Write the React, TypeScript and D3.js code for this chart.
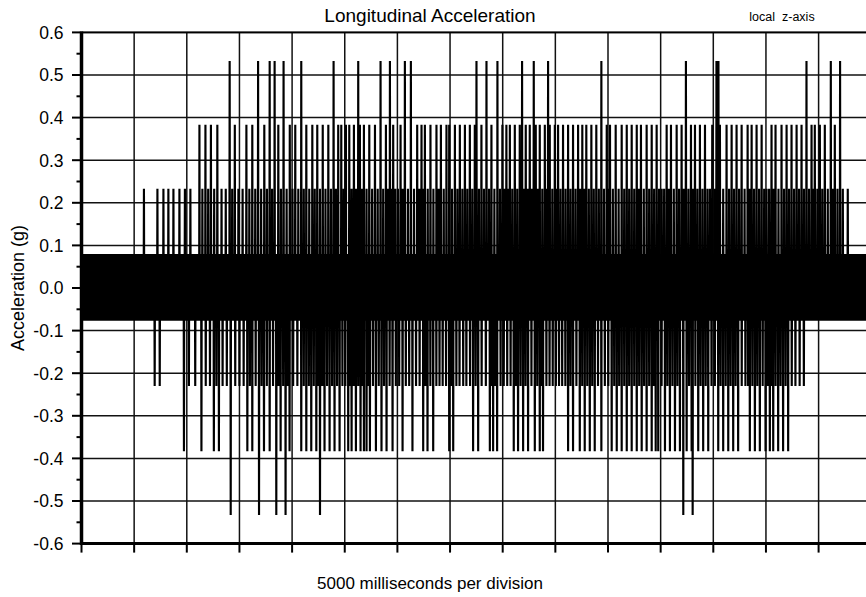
import React from "react";
import * as d3 from "d3";

// ---- data (time in ms, acceleration in g) ----
const timeDomain = [0, 75000];
const msPerDivision = 5000;
const yTickValues = [0.6, 0.5, 0.4, 0.3, 0.2, 0.1, 0.0, -0.1, -0.2, -0.3, -0.4, -0.5, -0.6];
const yTickLabels = ["0.6", "0.5", "0.4", "0.3", "0.2", "0.1", "0.0", "-0.1", "-0.2", "-0.3", "-0.4", "-0.5", "-0.6"];

// quantised noise band around zero
const bandLow = -0.077;
const bandHigh = 0.08;
const bandSpan = [0, 75000];

// spike levels
const levelPos053 = 0.533;
const levelPos038 = 0.383;
const levelPos023 = 0.233;
const levelNeg023 = -0.23;
const levelNeg038 = -0.383;
const levelNeg053 = -0.533;

const pos053 = [14070, 16770, 17870, 18340, 19190, 20870, 23940, 26280, 28400, 29290, 30710, 31280, 37510, 38460, 39500, 41840, 42950, 44310, 49370, 57400, 60300, 60490, 68850, 71160, 72040];

const neg053 = [14170, 16860, 18500, 19380, 22650, 57150, 58040];

const pos038 = [11200, 11770, 12290, 12900, 14560, 15660, 16220, 17360, 18690, 19780, 20300, 21350, 21920, 22390, 22910, 23440, 24380, 24670, 25110, 25430, 25870, 26440, 26820, 27330, 27870, 28910, 29600, 30300, 31880, 32290, 32610, 33140, 33710, 34130, 34660, 34920, 35460, 35930, 36410, 36880, 37350, 37980, 38930, 39970, 40350, 40680, 41150, 41620, 42190, 42570, 43140, 43520, 44000, 44470, 44950, 45260, 45730, 46210, 46680, 47160, 47560, 47940, 48420, 48890, 49880, 50190, 50730, 51300, 51780, 52250, 52730, 53130, 53670, 54150, 54620, 55570, 55980, 56520, 56990, 57880, 58260, 58730, 59210, 59900, 60630, 61260, 61740, 62210, 62690, 63260, 63640, 64110, 64590, 65530, 65910, 66480, 66960, 67430, 67910, 68380, 69330, 69640, 70120, 70590, 71540];

const neg038 = [9730, 11390, 12570, 13050, 15750, 16220, 17330, 17870, 18910, 19760, 20870, 21350, 21820, 22300, 23080, 23560, 24030, 24510, 25330, 25650, 26060, 26500, 26820, 27070, 27390, 27960, 28490, 28970, 29540, 30490, 31430, 32450, 32860, 33400, 34920, 35300, 37190, 37670, 38780, 39090, 39470, 41050, 41460, 41940, 42410, 43050, 43520, 43830, 46210, 46680, 47320, 47790, 48270, 48740, 49370, 50350, 50830, 51300, 51780, 52250, 52730, 53200, 53670, 54150, 54530, 54770, 55410, 55880, 56360, 56830, 57470, 57940, 58570, 59040, 59520, 60470, 60940, 61420, 61890, 62360, 63470, 63950, 64420, 64960, 65370, 65690, 66160, 66630, 67110];

const pos023 = [5930, 7210, 7780, 8250, 8730, 9300, 9820, 10340, 11480, 12030, 12600, 13300, 13700, 14310, 14900, 15300, 15940, 16500, 17060, 17610, 18100, 18940, 19480, 20040, 20590, 21110, 21630, 22150, 22650, 23170, 23690, 24160, 24890, 25650, 26080, 26630, 27070, 27600, 28130, 28650, 29100, 29450, 29800, 30050, 30500, 31000, 31580, 32080, 32450, 32880, 33420, 33920, 34400, 35190, 35700, 36170, 36640, 37110, 37740, 38220, 38700, 39210, 39740, 40160, 40510, 40910, 41380, 42010, 42380, 42760, 43330, 43760, 44150, 44710, 45100, 45490, 45970, 46440, 46920, 47360, 47750, 48180, 48650, 49130, 49620, 50030, 50460, 51010, 51540, 52010, 52490, 52930, 53400, 53910, 54380, 54850, 55100, 55330, 55770, 56250, 56750, 57190, 57640, 58070, 58490, 58970, 59450, 59680, 60150, 60940, 61500, 61970, 62450, 62970, 63450, 63870, 64350, 64830, 65060, 65300, 65720, 66190, 66720, 67190, 67670, 68140, 68610, 69090, 69480, 69880, 70350, 70870, 71350, 71790, 72300, 72770];

const neg023 = [6950, 7430, 10200, 10800, 11800, 12200, 12810, 13400, 13800, 14600, 15000, 15400, 15990, 16540, 17100, 17600, 18190, 18700, 19150, 19570, 20100, 20500, 21110, 21590, 22060, 22480, 22870, 23320, 23800, 24270, 24780, 25060, 25490, 25860, 26280, 26660, 27230, 27680, 28230, 28730, 29260, 29850, 30170, 30800, 31120, 31770, 32110, 32650, 33130, 33700, 34000, 34300, 34620, 35110, 35600, 35900, 36250, 36550, 36900, 37430, 38000, 38400, 38930, 39280, 39800, 40100, 40430, 40750, 41250, 41700, 42170, 42730, 43280, 43670, 44150, 44450, 44750, 45050, 45350, 45650, 45950, 46440, 47000, 47550, 48030, 48500, 49050, 49700, 50030, 50590, 51060, 51540, 52010, 52490, 52960, 53430, 53910, 54340, 55090, 55640, 56120, 56590, 57700, 58300, 58800, 59280, 59830, 60150, 60700, 61180, 61650, 62120, 62700, 63050, 63300, 63710, 64180, 64690, 65160, 65530, 65920, 66390, 66870, 67450, 67800, 68200, 68600];

const W = 866;
const H = 597;
const FONT = "'Liberation Sans', Arial, Helvetica, sans-serif";

export default function App() {
  const plotLeft = 81.5;
  const plotRight = 871.25;
  const plotTop = 32.4;
  const plotBottom = 543.6;

  const x = d3.scaleLinear().domain(timeDomain).range([plotLeft, plotRight]);
  const y = d3.scaleLinear().domain([-0.6, 0.6]).range([plotBottom, plotTop]);

  const xGrid = d3.range(timeDomain[0], timeDomain[1], msPerDivision);
  const yMinor = yTickValues.slice(0, -1).map((v) => v - 0.05);

  const sets = [
    { times: pos053, v: levelPos053 },
    { times: pos038, v: levelPos038 },
    { times: pos023, v: levelPos023 },
    { times: neg023, v: levelNeg023 },
    { times: neg038, v: levelNeg038 },
    { times: neg053, v: levelNeg053 },
  ];
  const events: { t: number; v: number }[] = [];
  sets.forEach((s) => s.times.forEach((t) => events.push({ t, v: s.v })));
  events.sort((a, b) => a.t - b.t);

  const pts: [number, number][] = [[timeDomain[0], 0]];
  const dt = 25;
  events.forEach((e) => {
    pts.push([e.t - dt, 0]);
    pts.push([e.t, e.v]);
    pts.push([e.t + dt, 0]);
  });
  pts.push([timeDomain[1], 0]);

  const line = d3
    .line<[number, number]>()
    .x((d) => x(d[0]))
    .y((d) => y(d[1]));

  const bandData = bandSpan.map((t) => ({ t, lo: bandLow, hi: bandHigh }));
  const area = d3
    .area<{ t: number; lo: number; hi: number }>()
    .x((d) => x(d.t))
    .y0((d) => y(d.lo))
    .y1((d) => y(d.hi));

  return (
    <svg
      width={W}
      height={H}
      viewBox={`0 0 ${W} ${H}`}
      style={{ position: "absolute", left: 0, top: 0, background: "#fff" }}
    >
      <rect x={0} y={0} width={W} height={H} fill="#fff" />
      <defs>
        <clipPath id="plotClip">
          <rect x={plotLeft} y={plotTop - 2} width={plotRight - plotLeft} height={plotBottom - plotTop + 4} />
        </clipPath>
      </defs>

      {/* grid */}
      <g stroke="#111" strokeWidth={1.5}>
        {xGrid.map((t) => (
          <line key={"gx" + t} x1={x(t)} x2={x(t)} y1={plotTop} y2={plotBottom} />
        ))}
        {yTickValues.map((v) => (
          <line key={"gy" + v} x1={plotLeft} x2={W} y1={y(v)} y2={y(v)} />
        ))}
      </g>

      {/* signal */}
      <g clipPath="url(#plotClip)">
        <path d={area(bandData) || ""} fill="#000" />
        <path d={line(pts) || ""} fill="none" stroke="#000" strokeWidth={2.15} strokeLinejoin="miter" />
      </g>

      {/* axes */}
      <line x1={plotLeft} x2={plotLeft} y1={plotTop - 1} y2={plotBottom + 1.5} stroke="#000" strokeWidth={3.5} />
      <line x1={plotLeft - 1.5} x2={W} y1={plotBottom} y2={plotBottom} stroke="#000" strokeWidth={3} />
      <line x1={plotLeft} x2={W} y1={plotTop} y2={plotTop} stroke="#000" strokeWidth={1.8} />

      {/* ticks */}
      <g stroke="#000" strokeWidth={2}>
        {yTickValues.map((v) => (
          <line key={"ty" + v} x1={plotLeft - 9.5} x2={plotLeft} y1={y(v)} y2={y(v)} />
        ))}
        {yMinor.map((v) => (
          <line key={"tm" + v} x1={plotLeft - 5} x2={plotLeft} y1={y(v)} y2={y(v)} />
        ))}
        {xGrid.map((t) => (
          <line key={"tx" + t} x1={x(t)} x2={x(t)} y1={plotBottom} y2={plotBottom + 9} />
        ))}
      </g>

      <g fontFamily={FONT} fill="#000">
        {yTickValues.map((v, i) => (
          <text key={"ly" + v} x={63.5} y={y(v)} dy="0.36em" textAnchor="end" fontSize={17.5}>
            {yTickLabels[i]}
          </text>
        ))}
        <text x={430} y={22} textAnchor="middle" fontSize={19}>
          Longitudinal Acceleration
        </text>
        <text x={782} y={21} textAnchor="middle" fontSize={12.5} style={{ whiteSpace: "pre" }}>
          {"local  z-axis"}
        </text>
        <text x={430} y={589} textAnchor="middle" fontSize={17}>
          5000 milliseconds per division
        </text>
        <text
          transform={`translate(24, ${y(0)}) rotate(-90)`}
          textAnchor="middle"
          fontSize={18}
        >
          Acceleration (g)
        </text>
      </g>
    </svg>
  );
}
